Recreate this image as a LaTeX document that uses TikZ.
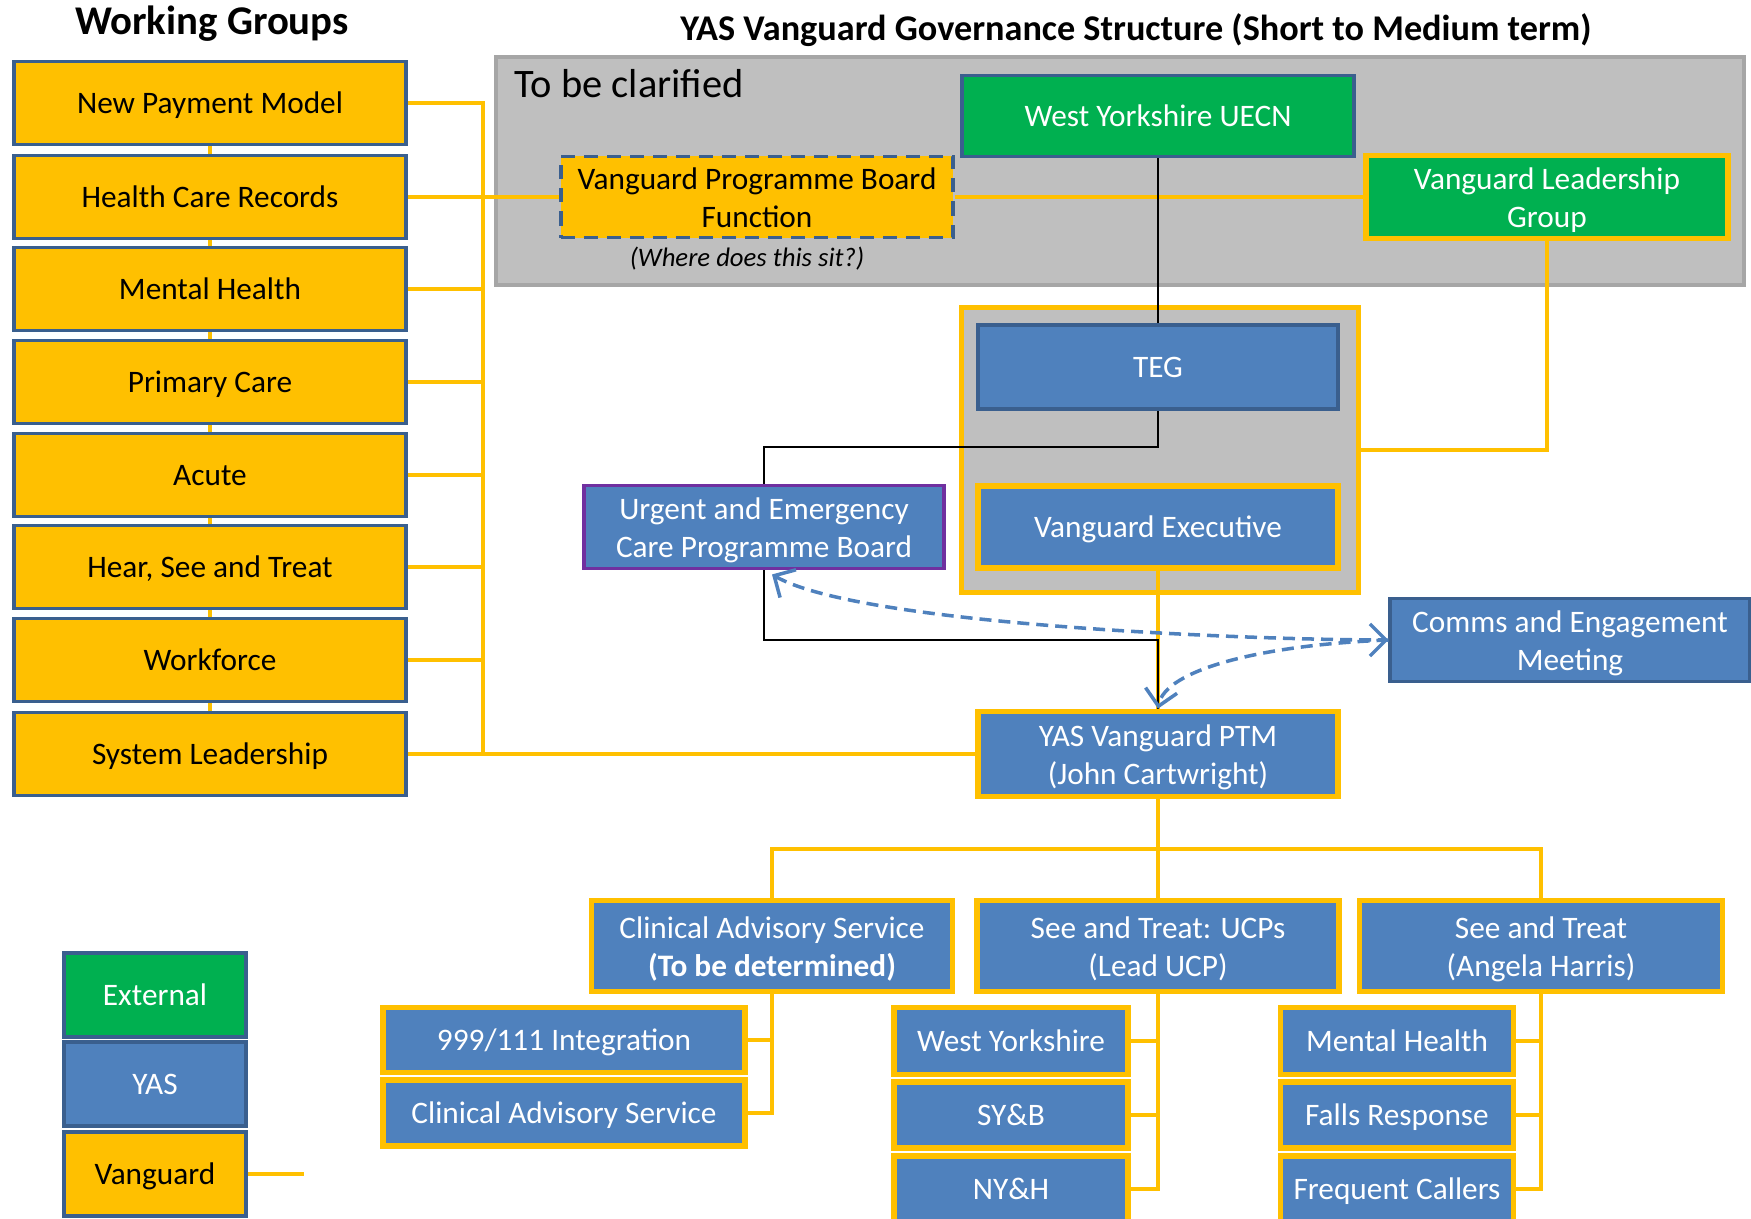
\documentclass[tikz,border=0pt]{standalone}
\usepackage{fontspec}
\setmainfont{Carlito}
\usetikzlibrary{arrows.meta}
\definecolor{vyellow}{HTML}{FFC000}
\definecolor{vblue}{HTML}{4F81BD}
\definecolor{vborder}{HTML}{3A5F8E}
\definecolor{vgreen}{HTML}{00B050}
\definecolor{vpurple}{HTML}{7030A0}
\definecolor{vgray}{HTML}{BFBFBF}
\definecolor{vgrayline}{HTML}{A6A6A6}
\newcommand{\linestrut}{\rule{0pt}{1.0em}}
\begin{document}
	\begin{tikzpicture}[x=0.01cm, y=-0.01cm,
		every node/.style={font=\fontsize{8.9}{10.8}\selectfont, align=center, inner sep=0pt},
		boxtext/.style={execute at begin node={\rule[-0.25em]{0pt}{1.14em}}, execute at end node={\rule[-0.25em]{0pt}{1.14em}}},
		wgbox/.style={boxtext, draw=vborder, fill=vyellow, line width=1pt, minimum width=3.92cm, minimum height=0.83cm},
		extbox/.style={boxtext, draw=vborder, fill=vgreen, text=white, line width=1.1pt},
		yasbox/.style={boxtext, draw=vborder, fill=vblue, text=white, line width=1.1pt},
		vanbox/.style={boxtext, draw=vyellow, fill=vblue, text=white, line width=1.6pt},
		yline/.style={draw=vyellow, line width=1pt},
		bline/.style={draw=black, line width=0.6pt},
		dline/.style={draw=vblue, line width=1pt, dash pattern=on 1.2mm off 0.7mm},
		barb/.tip={Straight Barb[length=1.6mm, width=3.2mm]}]
		\useasboundingbox ( 0, 0 ) rectangle ( 1751, 1219 );
		\clip ( 0, 0 ) rectangle ( 1751, 1219 );

		% titles
		\node [font=\fontsize{11.6}{13}\selectfont\bfseries, anchor=base] (wgtitle) at ( 212, 35 ) {Working Groups};
		\node [font=\fontsize{10.3}{12}\selectfont\bfseries, anchor=base] (title) at ( 1136, 41 ) {YAS Vanguard Governance Structure (Short to Medium term)};

		% working groups
		\node [wgbox] (npm) at ( 210, 103 ) {New Payment Model};
		\node [wgbox] (hcr) at ( 210, 197 ) {Health Care Records};
		\node [wgbox] (mh) at ( 210, 289 ) {Mental Health};
		\node [wgbox] (pc) at ( 210, 382 ) {Primary Care};
		\node [wgbox] (acute) at ( 210, 475 ) {Acute};
		\node [wgbox] (hst) at ( 210, 567 ) {Hear, See and Treat};
		\node [wgbox] (wf) at ( 210, 660 ) {Workforce};
		\node [wgbox] (sl) at ( 210, 754 ) {System Leadership};
		\coordinate (trunk) at ( 483, 754 );

		% to be clarified
		\node [draw=vgrayline, fill=vgray, line width=1.1pt, minimum width=12.47cm, minimum height=2.28cm] (clarify) at ( 1120, 171 ) {};
		\node [font=\fontsize{11.5}{13}\selectfont, anchor=base west] (clarifylabel) at ( 514, 98 ) {To be clarified};
		\node [extbox, minimum width=3.92cm, minimum height=0.81cm] (uecn) at ( 1158, 116 ) {West Yorkshire UECN};
		\node [wgbox, line width=1pt, dash pattern=on 1.4mm off 0.9mm, minimum height=0.81cm] (vpb) at ( 757, 197 ) {\linestrut Vanguard Programme Board \\ Function};
		\node [font=\fontsize{7.6}{9}\selectfont\itshape, anchor=base] (where) at ( 747, 267 ) {(Where does this sit?)};
		\node [vanbox, fill=vgreen, minimum width=3.62cm, minimum height=0.83cm] (vlg) at ( 1547, 197 ) {\linestrut Vanguard Leadership \\ Group};

		% teg and executive
		\node [draw=vyellow, fill=vgray, line width=1.4pt, minimum width=3.96cm, minimum height=2.84cm] (varea) at ( 1160, 450 ) {};
		\node [yasbox, minimum width=3.6cm, minimum height=0.84cm] (teg) at ( 1158, 367 ) {TEG};
		\node [vanbox, minimum width=3.6cm, minimum height=0.82cm] (ve) at ( 1158, 527 ) {Vanguard Executive};
		\node [yasbox, draw=vpurple, minimum width=3.6cm, minimum height=0.83cm] (uecpb) at ( 764, 527 ) {\linestrut Urgent and Emergency \\ Care Programme Board};
		\node [yasbox, minimum width=3.59cm, minimum height=0.83cm] (comms) at ( 1570, 640 ) {\linestrut Comms and Engagement \\ Meeting};
		\node [vanbox, minimum width=3.6cm, minimum height=0.85cm] (ptm) at ( 1158, 754 ) {\linestrut YAS Vanguard PTM \\ (John Cartwright)};
		\coordinate (tegturn) at ( 764, 447 );
		\coordinate (uecturn) at ( 764, 640 );

		% workstreams
		\node [vanbox, minimum width=3.61cm, minimum height=0.91cm] (cas) at ( 772, 946 ) {\linestrut Clinical Advisory Service \\ \textbf{(To be determined)}};
		\node [vanbox, minimum width=3.62cm, minimum height=0.91cm] (ucp) at ( 1158, 946 ) {\linestrut See and Treat: UCPs \\ (Lead UCP)};
		\node [vanbox, minimum width=3.63cm, minimum height=0.91cm] (st) at ( 1541, 946 ) {\linestrut See and Treat \\ (Angela Harris)};
		\coordinate (bus) at ( 1158, 849 );

		\node [vanbox, minimum width=3.62cm, minimum height=0.65cm] (i999) at ( 564, 1040 ) {999/111 Integration};
		\node [vanbox, minimum width=3.62cm, minimum height=0.66cm] (casub) at ( 564, 1113 ) {Clinical Advisory Service};

		\node [vanbox, minimum width=2.34cm, minimum height=0.67cm] (wy) at ( 1011, 1041 ) {West Yorkshire};
		\node [vanbox, minimum width=2.34cm, minimum height=0.66cm] (syb) at ( 1011, 1115 ) {SY\&B};
		\node [vanbox, minimum width=2.34cm, minimum height=0.66cm] (nyh) at ( 1011, 1189 ) {NY\&H};

		\node [vanbox, minimum width=2.33cm, minimum height=0.67cm] (mhs) at ( 1397, 1041 ) {Mental Health};
		\node [vanbox, minimum width=2.33cm, minimum height=0.66cm] (falls) at ( 1397, 1115 ) {Falls Response};
		\node [vanbox, minimum width=2.33cm, minimum height=0.66cm] (fc) at ( 1397, 1189 ) {Frequent Callers};

		% legend
		\node [extbox, minimum width=1.82cm, minimum height=0.84cm] (ext) at ( 155, 995 ) {External};
		\node [yasbox, minimum width=1.82cm, minimum height=0.84cm] (yas) at ( 155, 1084 ) {YAS};
		\node [wgbox, minimum width=1.82cm, minimum height=0.84cm] (van) at ( 155, 1174 ) {Vanguard};
		\coordinate (vanstub) at ( 304, 1174 );

		% connectors
		\draw [yline] (npm.south) -- (hcr.north) (hcr.south) -- (mh.north) (mh.south) -- (pc.north) (pc.south) -- (acute.north)
			(acute.south) -- (hst.north) (hst.south) -- (wf.north) (wf.south) -- (sl.north);
		\draw [yline] (npm.east) -| (trunk);
		\draw [yline] (hcr.east) -- (vpb.west);
		\draw [yline] (mh.east) -- (mh.east -| trunk);
		\draw [yline] (pc.east) -- (pc.east -| trunk);
		\draw [yline] (acute.east) -- (acute.east -| trunk);
		\draw [yline] (hst.east) -- (hst.east -| trunk);
		\draw [yline] (wf.east) -- (wf.east -| trunk);
		\draw [yline] (sl.east) -- (ptm.west);

		\draw [yline] (vpb.east) -- (vlg.west);
		\draw [bline] (uecn.south) -- (teg.north);
		\draw [yline] (vlg.south) |- (varea.east);
		\draw [bline] (teg.south) |- (tegturn) -- (uecpb.north);
		\draw [yline] (ve.south) -- (ptm.north);
		\draw [bline] (uecpb.south) -- (uecturn) -| (ptm.north);

		\draw [dline, barb-barb] ([xshift=0.08cm, yshift=-0.04cm]uecpb.south) .. controls ( 860, 625 ) and ( 1250, 640 ) .. (comms.west);
		\draw [dline, -barb] (comms.west) .. controls ( 1260, 645 ) and ( 1165, 670 ) .. (ptm.north);

		\draw [yline] (ptm.south) -- (ucp.north);
		\draw [yline] (cas.north) |- (bus) -| (st.north);

		\draw [yline] (cas.south) |- (casub.east);
		\draw [yline] (i999.east) -| (cas.south);
		\draw [yline] (ucp.south) |- (nyh.east);
		\draw [yline] (wy.east) -| (ucp.south);
		\draw [yline] (syb.east) -| (ucp.south);
		\draw [yline] (st.south) |- (fc.east);
		\draw [yline] (mhs.east) -| (st.south);
		\draw [yline] (falls.east) -| (st.south);
		\draw [yline] (van.east) -- (vanstub);
	\end{tikzpicture}
\end{document}
